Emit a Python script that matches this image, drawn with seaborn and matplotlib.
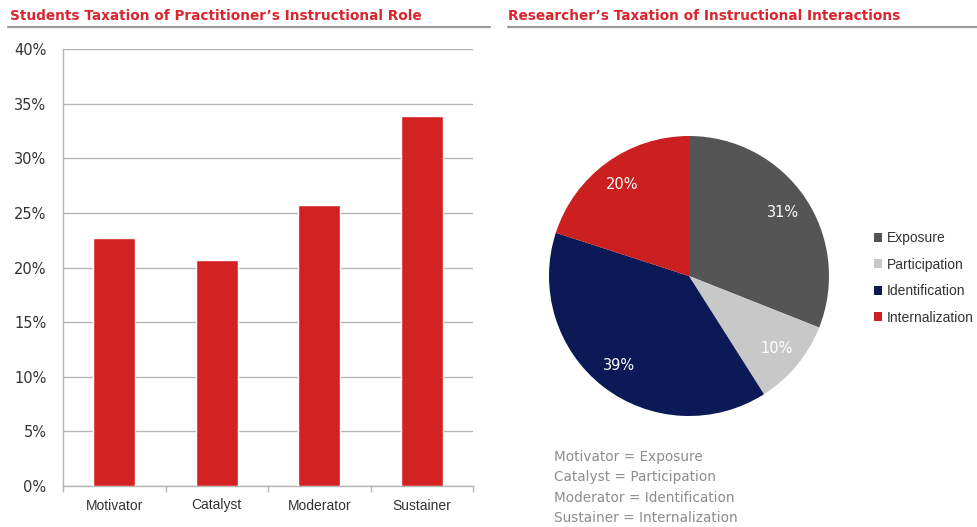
import matplotlib
matplotlib.use("Agg")
import matplotlib.pyplot as plt
import seaborn as sns
import pandas as pd
from matplotlib.lines import Line2D
from matplotlib.ticker import FuncFormatter, MultipleLocator

# data
roles = ["Motivator", "Catalyst", "Moderator", "Sustainer"]
role_share = [22.7, 20.7, 25.7, 33.9]

interactions = ["Exposure", "Participation", "Identification", "Internalization"]
interaction_share = [31, 10, 39, 20]
pie_colors = ["#555555", "#c8c8c8", "#0b1957", "#cc1f1f"]

mapping = ["Motivator = Exposure", "Catalyst = Participation",
           "Moderator = Identification", "Sustainer = Internalization"]

sns.set_theme(style="white")
plt.rcParams["font.family"] = ["DejaVu Sans"]

W, H = 977, 527
fig = plt.figure(figsize=(W / 100, H / 100), dpi=100)
fig.patch.set_facecolor("white")

def fx(px):
    return px / W

def fy(py):
    return 1 - py / H

# titles + underline
title_kw = dict(color="#d9262e", fontsize=9.8, fontweight="bold", va="center")
fig.text(fx(10), fy(16), "Students Taxation of Practitioner\u2019s Instructional Role", **title_kw)
fig.text(fx(508), fy(16), "Researcher\u2019s Taxation of Instructional Interactions", **title_kw)
fig.add_artist(Line2D([fx(8), fx(490)], [fy(27), fy(27)], color="#9a9a9a", lw=1.6))
fig.add_artist(Line2D([fx(508), fx(977)], [fy(27), fy(27)], color="#9a9a9a", lw=1.6))

# bar chart
ax = fig.add_axes([fx(63), fy(486), fx(473 - 63), (486 - 49) / H])
df = pd.DataFrame({"role": roles, "share": role_share})
sns.barplot(data=df, x="role", y="share", color="#d42222", width=0.41,
            saturation=1, ax=ax, zorder=3)
ax.set_ylim(0, 40)
ax.set_xlim(-0.5, 3.5)
ax.yaxis.set_major_locator(MultipleLocator(5))
ax.yaxis.set_major_formatter(FuncFormatter(lambda v, p: f"{v:.0f}%"))
ax.grid(axis="y", color="#b5b5b5", lw=1, zorder=0)
ax.set_xlabel("")
ax.set_ylabel("")
for s in ["top", "right"]:
    ax.spines[s].set_visible(False)
for s in ["left", "bottom"]:
    ax.spines[s].set_color("#b5b5b5")
    ax.spines[s].set_linewidth(1)
ax.tick_params(axis="y", labelsize=10.5, labelcolor="#333333", length=0, pad=12)
ax.tick_params(axis="x", labelsize=10, labelcolor="#333333", length=0, pad=9)
for lab in ax.get_xticklabels():
    lab.set_family("Liberation Sans")
# small separator ticks between categories
ax.set_xticks([-0.5, 0.5, 1.5, 2.5, 3.5], minor=True)
ax.tick_params(axis="x", which="minor", bottom=True, length=4, color="#b5b5b5",
               width=1, direction="out")

# pie chart
pax = fig.add_axes([fx(549), fy(416), fx(280), 280 / H])
wedges, _, autotexts = pax.pie(interaction_share, colors=pie_colors, startangle=90,
                               counterclock=False, autopct="%d%%", pctdistance=0.81,
                               wedgeprops=dict(linewidth=0),
                               textprops=dict(color="white", fontsize=10.5))
pax.set_xlim(-1, 1)
pax.set_ylim(-1, 1)
pax.set_aspect("equal")

leg = fig.legend(wedges, interactions, loc="upper left",
                 bbox_to_anchor=(fx(874), fy(231)), frameon=False,
                 handlelength=0.6, handleheight=0.6, handletextpad=0.35,
                 labelspacing=0.9, borderaxespad=0, borderpad=0,
                 prop=dict(family="Liberation Sans", size=10))
for t in leg.get_texts():
    t.set_color("#333333")

for i, line in enumerate(mapping):
    fig.text(fx(554), fy(457 + i * 20.4), line, color="#8c8c8c", fontsize=9.8, va="center")

fig.savefig("out.png", dpi=100, facecolor="white")
